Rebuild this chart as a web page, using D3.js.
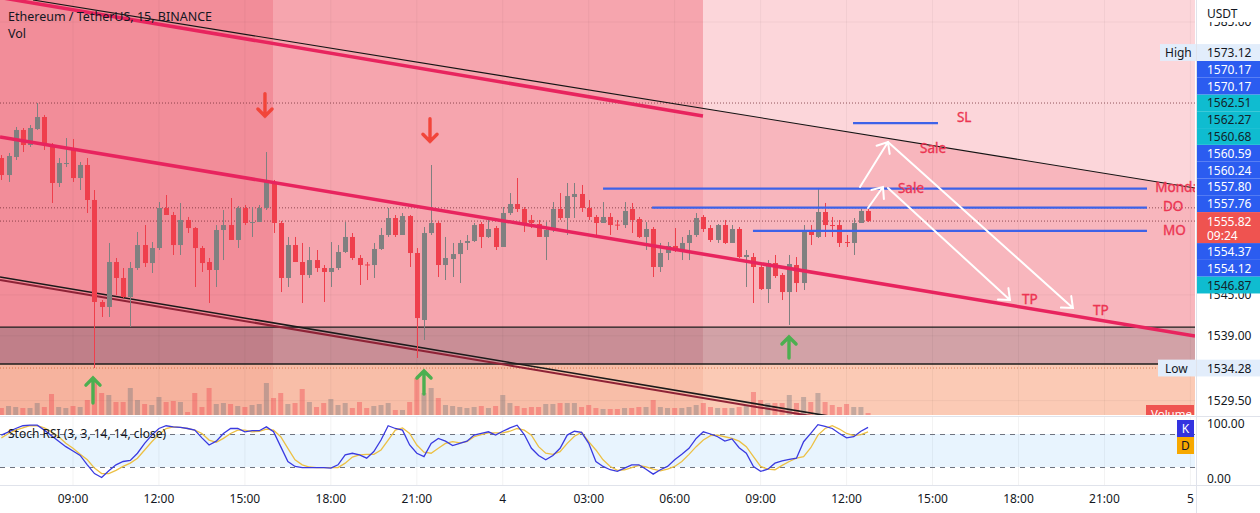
<!DOCTYPE html>
<html><head><meta charset="utf-8">
<script src="https://cdn.jsdelivr.net/npm/d3@7"></script>
<style>
body{margin:0;background:#fff;overflow:hidden}
text{font-family:"Noto Sans","Open Sans",sans-serif}
</style>
</head><body>
<svg id="c" width="1260" height="513"></svg>
<script>
// ---------------- DATA ----------------
const opens=[1565.06,1562.57,1565.21,1569.17,1566.97,1569.31,1571.07,1566.97,1561.40,1564.26,
1566.24,1562.13,1564.04,1558.91,1543.96,1543.23,1549.82,1547.48,1544.69,1548.94,
1552.31,1549.67,1551.87,1557.74,1556.71,1552.31,1555.98,1554.80,1551.87,1549.82,
1548.65,1554.51,1555.24,1553.05,1557.74,1555.61,1555.68,1557.74,1561.55,1555.54,
1547.48,1552.31,1549.82,1547.92,1550.11,1548.94,1548.36,1548.94,1551.29,1553.49,
1550.41,1549.46,1549.38,1551.73,1553.78,1556.27,1553.78,1556.56,1551.14,1541.32,
1554.07,1555.54,1549.38,1550.26,1550.99,1552.61,1552.90,1555.39,1553.49,1554.80,
1552.02,1557.00,1558.32,1557.59,1555.98,1555.39,1553.49,1554.51,1557.59,1556.27,
1559.35,1559.79,1557.74,1556.42,1555.54,1556.42,1555.30,1555.24,1557.59,1556.12,
1553.49,1554.66,1549.09,1551.14,1552.17,1551.43,1552.61,1553.78,1556.42,1554.80,
1553.05,1555.24,1552.61,1554.66,1550.55,1550.55,1549.09,1545.86,1549.67,1547.92,
1545.42,1549.38,1546.74,1554.36,1553.49,1557.15,1555.24,1555.24,1552.75,1552.61,
1555.54,1557.30];
const highs=[1565.50,1565.80,1569.61,1569.46,1569.90,1573.12,1571.37,1567.26,1565.06,1567.99,
1567.85,1564.48,1565.06,1560.37,1544.25,1552.61,1550.41,1548.94,1549.82,1554.22,
1555.24,1552.75,1558.61,1559.64,1557.15,1558.47,1556.42,1554.95,1552.17,1550.41,
1555.24,1557.44,1559.20,1558.03,1558.18,1557.88,1558.18,1565.94,1561.84,1555.83,
1553.49,1553.49,1552.61,1552.02,1551.58,1549.38,1552.75,1552.31,1555.68,1554.07,
1550.85,1549.82,1552.61,1554.80,1557.74,1556.71,1557.00,1556.71,1551.87,1554.95,
1564.04,1555.83,1553.49,1552.61,1553.05,1553.78,1555.54,1555.68,1556.27,1555.10,
1557.88,1559.93,1562.13,1557.88,1556.71,1555.98,1555.68,1558.61,1559.93,1561.40,
1561.40,1561.11,1558.91,1556.71,1558.61,1557.00,1555.98,1558.61,1558.47,1556.42,
1555.68,1554.95,1552.61,1552.75,1554.80,1553.49,1554.51,1557.00,1556.71,1555.24,
1555.39,1555.98,1555.24,1554.95,1551.58,1551.14,1549.38,1550.11,1550.85,1548.21,
1550.85,1550.55,1555.24,1555.24,1560.67,1558.47,1556.42,1555.98,1553.78,1556.27,
1557.59,1557.59];
const lows=[1561.84,1561.55,1564.77,1565.94,1566.68,1569.17,1566.24,1558.47,1560.81,1563.74,
1561.55,1560.37,1557.00,1534.28,1541.76,1541.76,1544.98,1544.55,1540.29,1548.65,
1549.09,1548.21,1551.58,1556.71,1550.85,1550.85,1554.07,1546.16,1548.36,1543.81,
1546.16,1550.11,1553.05,1551.87,1555.24,1553.49,1555.68,1557.44,1554.07,1545.42,
1546.16,1549.82,1543.81,1547.48,1548.36,1543.96,1546.16,1548.65,1551.14,1550.11,
1546.45,1547.18,1547.48,1551.58,1553.49,1553.49,1553.78,1549.09,1535.75,1538.39,
1553.78,1547.62,1547.18,1547.62,1546.74,1551.58,1552.75,1551.87,1553.34,1551.58,
1552.02,1556.71,1557.15,1554.22,1554.80,1553.49,1550.11,1554.22,1555.98,1553.78,
1556.27,1557.15,1555.98,1553.34,1555.54,1553.78,1554.51,1554.80,1554.07,1553.34,
1551.58,1547.62,1548.36,1550.11,1551.29,1550.11,1550.11,1553.49,1554.22,1552.75,
1552.61,1552.46,1552.61,1550.41,1546.16,1543.81,1545.72,1543.81,1547.48,1544.25,
1540.59,1545.42,1545.72,1552.31,1553.34,1553.49,1553.49,1552.02,1552.02,1550.85,
1555.54,1555.68];
const closes=[1562.57,1565.36,1569.17,1566.97,1569.46,1571.07,1566.97,1561.40,1564.33,1564.33,
1562.13,1564.04,1558.91,1543.96,1543.23,1549.82,1547.48,1544.69,1548.94,1552.31,
1549.67,1551.87,1557.74,1556.71,1552.31,1555.98,1554.80,1551.87,1549.67,1548.65,
1554.51,1555.24,1553.05,1557.74,1555.54,1555.68,1557.74,1561.55,1555.54,1547.48,
1552.31,1549.82,1547.92,1550.11,1548.94,1548.36,1548.94,1551.29,1553.49,1550.41,
1549.38,1549.38,1551.73,1553.78,1556.27,1553.78,1556.56,1551.14,1541.61,1554.07,
1555.54,1549.38,1550.41,1550.99,1552.61,1552.90,1555.24,1553.49,1554.66,1552.02,
1557.00,1558.32,1557.59,1555.54,1555.54,1553.49,1554.51,1557.59,1556.27,1559.49,
1559.79,1557.74,1556.42,1555.54,1556.42,1555.24,1555.24,1557.30,1555.98,1553.49,
1554.66,1549.09,1551.14,1552.17,1551.43,1552.61,1553.78,1556.27,1554.66,1553.05,
1555.24,1552.61,1554.66,1550.55,1550.85,1549.09,1545.86,1549.67,1547.77,1545.42,
1549.53,1546.74,1554.51,1553.78,1557.15,1555.24,1555.17,1552.61,1552.68,1555.54,
1557.30,1555.82];
const volumes=[700,900,800,700,700,1200,800,2100,800,700,
900,800,1500,3500,2200,2000,1300,1300,2700,1500,
1100,1000,1800,1300,1400,1300,300,2200,800,2700,
1100,1200,1100,900,800,1000,1100,3200,1700,2200,
1100,1200,2600,1300,800,1200,1600,1000,1200,700,
1300,700,900,1000,1200,500,500,1300,3700,2200,
2700,1700,1000,900,800,700,800,900,700,900,
2000,1200,900,700,800,800,1100,1100,1200,1200,
1200,800,1000,700,600,600,600,700,700,800,
800,1500,800,700,700,700,800,1000,1200,800,
700,700,700,800,1000,2300,1500,1200,1200,1200,
2000,1200,1800,1300,2200,1300,1000,800,1100,800,
800,200];
const stochK=[78,84,90,95,96,96,87,77,67,57,
49,41,24,8,1,13,24,30,32,45,
63,78,90,95,93,92,90,87,73,60,
67,81,90,90,84,86,86,93,84,57,
30,21,19,19,19,19,18,24,42,45,
42,36,48,69,95,90,87,60,45,39,
63,72,67,59,63,67,78,81,84,78,
85,91,96,79,54,41,33,41,54,78,
85,83,63,30,21,15,12,18,24,24,
16,7,15,21,33,43,54,72,84,80,
75,67,71,55,45,21,12,16,27,31,
34,36,66,81,97,94,90,81,73,75,85,92];
const stochD=[73,81,87,91,95,95,91,84,75,63,
54,43,33,18,8,8,14,21,27,36,
51,66,79,90,93,92,90,87,81,69,
65,72,81,87,87,84,85,89,87,75,
54,33,24,20,19,19,19,19,27,38,
42,43,43,51,69,87,91,81,60,47,
45,54,63,66,64,66,75,79,82,82,
82,85,90,87,78,57,45,43,48,63,
76,83,66,51,33,21,14,15,19,23,
20,16,13,16,21,30,43,57,69,77,
78,75,72,67,57,39,21,16,15,23,
30,36,39,55,78,90,95,89,81,77,79,84];
const timeTickIdx=[10,22,34,46,58,70,82,94,106,118,130,142,154,166];
const timeTickLabels=["09:00","12:00","15:00","18:00","21:00","4","03:00","06:00","09:00","12:00","15:00","18:00","21:00","5"];
const priceTicks=[1529.50,1539.00,1545.00,1585.00];
const lastPrice=1555.82, lastCountdown="09:24";
const labelsAbove=[1557.76,1557.80,1560.24,1560.59,1560.68,1562.27,1562.51,1570.17,1570.17];
const labelsAboveKind=["blue","blue","blue","blue","teal","teal","teal","blue","blue"];
const labelsBelow=[1554.37,1554.12,1546.87];
const labelsBelowKind=["blue","blue","teal"];
const highPrice=1573.12, lowPrice=1534.28;
// drawings in (bar index, price)
const lineTopBlack=[[4.42,1588.22],[166.64,1560.67]];
const lineTopRed=[[-0.19,1588.59],[97.95,1571.22]];
const lineMidRed=[[-0.19,1568.14],[166.64,1538.98]];
const lineLowDouble=[[-0.19,1547.62],[117.5,1526.9]];
const zoneTop=1540.29, zoneBottom=1534.87;
const sessionA=37.92, sessionB=97.95;
const levelNames=["SL","Monday","DO","MO"];
const levelPrices=[1570.17,1560.59,1557.80,1554.37];
const levelStart=[118.9,84.0,90.84,104.93];
const levelEnd=[130.76,159.94,159.94,159.94];
const whiteArrows=[[[119.87,1560.81],[123.78,1567.41]],[[123.78,1567.41],[149.6,1543.08]],
                   [[120.99,1557.74],[123.08,1560.81]],[[123.78,1560.67],[140.81,1544.25]]];
const downArrows=[[36.8,1574.5,1571.2],[59.84,1570.83,1567.50]];
const upArrows=[[12.79,1529.16,1532.82],[59.0,1530.48,1533.85],[109.96,1535.75,1538.83]];
const noteTexts=[["SL",133.41,1571.07],["Sale",128.25,1566.53],["Sale",125.17,1560.67],
  ["Monday",161.1,1560.81],["DO",162.17,1558.03],["MO",162.17,1554.51],["TP",142.49,1544.40],["TP",152.40,1542.79]];
const dottedPrices=[highPrice,1557.76,lastPrice];

// ---------------- LAYOUT ----------------
const svg=d3.select("#c");
const PR=1195, MB=415, ST=417, SB=485;
const x=d3.scaleLinear().domain([10,166]).range([73,1190.4]);
const y=d3.scaleLinear().domain([1588.22,1539]).range([0,335.84]);
const yS=d3.scaleLinear().domain([0,100]).range([478,423]);
const yV=d3.scaleLinear().domain([0,4000]).range([MB,MB-40]);
const idx=d3.range(opens.length);
const lineAt=(l,i)=>l[0][1]+(l[1][1]-l[0][1])*(i-l[0][0])/(l[1][0]-l[0][0]);

const defs=svg.append("defs");
defs.append("clipPath").attr("id","mainClip").append("rect").attr("x",0).attr("y",0).attr("width",PR).attr("height",MB);
defs.append("clipPath").attr("id","stClip").append("rect").attr("x",0).attr("y",ST).attr("width",PR).attr("height",SB-ST);

const main=svg.append("g").attr("clip-path","url(#mainClip)");
// backgrounds
main.append("rect").attr("x",0).attr("y",0).attr("width",PR).attr("height",MB).attr("fill","#fcd6da");
main.append("path").attr("fill","#f8b6bd")
  .attr("d",`M${x(-2)},${y(lineAt(lineTopBlack,-2))}L${x(170)},${y(lineAt(lineTopBlack,170))}L${x(170)},${MB}L${x(-2)},${MB}Z`);
main.append("rect").attr("x",0).attr("y",0).attr("width",x(sessionB)).attr("height",y(zoneTop)).attr("fill","#f6a5ae");
main.append("rect").attr("x",0).attr("y",0).attr("width",x(sessionA)).attr("height",y(zoneTop)).attr("fill","#f28d99");
const cols=[[0,x(sessionA)],[x(sessionA),x(sessionB)],[x(sessionB),PR]];
const grayC=["#c07f89","#c98e96","#d2a2a7"], peachC=["#f6b39e","#f8bea8","#fbcab5"];
cols.forEach((c,k)=>{
  main.append("rect").attr("x",c[0]).attr("y",y(zoneTop)).attr("width",c[1]-c[0]).attr("height",y(zoneBottom)-y(zoneTop)).attr("fill",grayC[k]);
  main.append("rect").attr("x",c[0]).attr("y",y(zoneBottom)).attr("width",c[1]-c[0]).attr("height",MB-y(zoneBottom)).attr("fill",peachC[k]);
});
// grid
main.selectAll(".vg").data(timeTickIdx).enter().append("line")
  .attr("x1",d=>x(d)).attr("x2",d=>x(d)).attr("y1",0).attr("y2",MB).attr("stroke","rgba(0,0,0,0.045)");
main.selectAll(".hg").data(priceTicks).enter().append("line")
  .attr("x1",0).attr("x2",PR).attr("y1",d=>y(d)).attr("y2",d=>y(d)).attr("stroke","rgba(0,0,0,0.045)");
// volume
main.selectAll(".vol").data(idx).enter().append("rect")
  .attr("x",i=>x(i)-2.5).attr("width",5).attr("y",i=>yV(volumes[i])).attr("height",i=>MB-yV(volumes[i]))
  .attr("fill",i=>closes[i]>=opens[i]?"rgba(110,112,122,0.38)":"rgba(240,60,70,0.38)");
// dotted lines
main.selectAll(".dot").data(dottedPrices).enter().append("line")
  .attr("x1",0).attr("x2",PR).attr("y1",d=>y(d)).attr("y2",d=>y(d))
  .attr("stroke","rgba(110,40,50,0.75)").attr("stroke-width",1).attr("stroke-dasharray","1,2");
main.append("line").attr("x1",0).attr("x2",PR).attr("y1",y(lowPrice)).attr("y2",y(lowPrice))
  .attr("stroke","rgba(200,90,40,0.7)").attr("stroke-dasharray","1,2");
// zone borders
[zoneTop,zoneBottom].forEach(p=>main.append("line").attr("x1",0).attr("x2",PR).attr("y1",y(p)).attr("y2",y(p)).attr("stroke","#1d1d1d").attr("stroke-width",1.3));
// lower double line
const seg=l=>`M${x(l[0][0])},${y(l[0][1])}L${x(l[1][0])},${y(l[1][1])}`;
main.append("path").attr("d",seg(lineLowDouble)).attr("transform","translate(0,3)").attr("stroke","#8e2236").attr("stroke-width",2).attr("fill","none");
main.append("path").attr("d",seg(lineLowDouble)).attr("stroke","#1a1a1a").attr("stroke-width",1.6).attr("fill","none");
// candles
const upC="#808080", dnC="#ef3f4c";
const cg=main.append("g");
cg.selectAll(".wick").data(idx).enter().append("line")
  .attr("x1",i=>Math.round(x(i))+0.5).attr("x2",i=>Math.round(x(i))+0.5)
  .attr("y1",i=>y(highs[i])).attr("y2",i=>y(lows[i]))
  .attr("stroke",i=>closes[i]>=opens[i]?upC:dnC).attr("stroke-width",1);
cg.selectAll(".body").data(idx).enter().append("rect")
  .attr("x",i=>Math.round(x(i))-2).attr("width",5)
  .attr("y",i=>y(Math.max(opens[i],closes[i])))
  .attr("height",i=>Math.max(1,Math.abs(y(opens[i])-y(closes[i]))))
  .attr("fill",i=>closes[i]>=opens[i]?upC:dnC);
// red trend lines & black top line
main.append("path").attr("d",seg(lineTopRed)).attr("stroke","#e8245e").attr("stroke-width",3.5).attr("fill","none");
main.append("path").attr("d",seg(lineMidRed)).attr("stroke","#e8245e").attr("stroke-width",3.5).attr("fill","none");
main.append("path").attr("d",seg(lineTopBlack)).attr("stroke","#141414").attr("stroke-width",1.1).attr("fill","none");
// level lines
main.selectAll(".lvl").data(levelPrices).enter().append("line")
  .attr("x1",(d,k)=>x(levelStart[k])).attr("x2",(d,k)=>x(levelEnd[k]))
  .attr("y1",d=>y(d)).attr("y2",d=>y(d)).attr("stroke","#3d62e8").attr("stroke-width",2.2);
// arrows
function arrowPath(x1,y1,x2,y2,len,ang){
  const a=Math.atan2(y2-y1,x2-x1);
  const p1=[x2-len*Math.cos(a-ang),y2-len*Math.sin(a-ang)], p2=[x2-len*Math.cos(a+ang),y2-len*Math.sin(a+ang)];
  return `M${x1},${y1}L${x2},${y2}M${p1[0]},${p1[1]}L${x2},${y2}L${p2[0]},${p2[1]}`;
}
main.selectAll(".wa").data(whiteArrows).enter().append("path")
  .attr("d",d=>arrowPath(x(d[0][0]),y(d[0][1]),x(d[1][0]),y(d[1][1]),12,Math.PI/4.5))
  .attr("stroke","#ffffff").attr("stroke-width",2).attr("fill","none").attr("stroke-linecap","round");
main.selectAll(".da").data(downArrows).enter().append("path")
  .attr("d",d=>arrowPath(x(d[0]),y(d[1]),x(d[0]),y(d[2]),10,Math.PI/4))
  .attr("stroke","#f2453a").attr("stroke-width",3.4).attr("fill","none").attr("stroke-linecap","round");
main.selectAll(".ua").data(upArrows).enter().append("path")
  .attr("d",d=>arrowPath(x(d[0]),y(d[1]),x(d[0]),y(d[2]),10,Math.PI/4))
  .attr("stroke","#4caf50").attr("stroke-width",3.4).attr("fill","none").attr("stroke-linecap","round");
// note texts
main.selectAll(".nt").data(noteTexts).enter().append("text")
  .attr("x",d=>x(d[1])).attr("y",d=>y(d[2])).attr("dominant-baseline","central")
  .attr("font-size",13.5).attr("fill","#ec3552").attr("stroke","#ec3552").attr("stroke-width",0.35).text(d=>d[0]);
// volume label
main.append("rect").attr("x",1146).attr("y",MB-10).attr("width",48).attr("height",14).attr("fill","#ef5350");
main.append("text").attr("x",1151).attr("y",MB+3).attr("font-size",11.5).attr("fill","#fff").text("Volume");
// legend
svg.append("text").attr("x",8).attr("y",16).attr("dominant-baseline","central").attr("font-size",12.5).attr("fill","#131722").text("Ethereum / TetherUS, 15, BINANCE");
svg.append("text").attr("x",8).attr("y",33).attr("dominant-baseline","central").attr("font-size",12.5).attr("fill","#131722").text("Vol");

// ---------------- STOCH PANE ----------------
svg.append("rect").attr("x",0).attr("y",MB).attr("width",1260).attr("height",513-MB).attr("fill","#fff");
svg.append("line").attr("x1",0).attr("x2",1260).attr("y1",MB+1.5).attr("y2",MB+1.5).attr("stroke","#e0e3eb");
const st=svg.append("g").attr("clip-path","url(#stClip)");
st.selectAll(".svg").data(timeTickIdx).enter().append("line")
  .attr("x1",d=>x(d)).attr("x2",d=>x(d)).attr("y1",ST).attr("y2",SB).attr("stroke","rgba(0,0,0,0.05)");
st.append("rect").attr("x",0).attr("width",PR).attr("y",yS(80)).attr("height",yS(20)-yS(80)).attr("fill","rgba(33,150,243,0.1)");
[80,20].forEach(v=>st.append("line").attr("x1",0).attr("x2",PR).attr("y1",yS(v)+0.5).attr("y2",yS(v)+0.5)
  .attr("stroke","#6f7380").attr("stroke-dasharray","5,5"));
const sl=d3.line().x(i=>x(i));
st.append("path").datum(idx).attr("d",sl.y(i=>yS(stochD[i]))).attr("fill","none").attr("stroke","#ecc044").attr("stroke-width",1.3);
st.append("path").datum(idx).attr("d",sl.y(i=>yS(stochK[i]))).attr("fill","none").attr("stroke","#3a3ae0").attr("stroke-width",1.3);
svg.append("text").attr("x",8).attr("y",433).attr("dominant-baseline","central").attr("font-size",12).attr("fill","#131722").text("Stoch RSI (3, 3, 14, 14, close)");
svg.append("rect").attr("x",1177).attr("y",420).attr("width",17).attr("height",17).attr("fill","#3333e0");
svg.append("text").attr("x",1185.5).attr("y",428.5).attr("text-anchor","middle").attr("dominant-baseline","central").attr("font-size",12).attr("fill","#fff").text("K");
svg.append("rect").attr("x",1177).attr("y",437).attr("width",17).attr("height",17).attr("fill","#f7a800");
svg.append("text").attr("x",1185.5).attr("y",445.5).attr("text-anchor","middle").attr("dominant-baseline","central").attr("font-size",12).attr("fill","#131722").text("D");
svg.append("line").attr("x1",0).attr("x2",1260).attr("y1",SB+0.5).attr("y2",SB+0.5).attr("stroke","#e0e3eb");

// ---------------- TIME AXIS ----------------
svg.selectAll(".tl").data(timeTickIdx).enter().append("text")
  .attr("x",d=>x(d)).attr("y",498).attr("text-anchor","middle").attr("dominant-baseline","central")
  .attr("font-size",12).attr("fill","#131722").text((d,k)=>timeTickLabels[k]);

// ---------------- PRICE AXIS ----------------
svg.append("rect").attr("x",PR+1).attr("y",0).attr("width",1260-PR-1).attr("height",MB).attr("fill","#fff");
svg.append("line").attr("x1",PR+1.5).attr("x2",PR+1.5).attr("y1",0).attr("y2",513).attr("stroke","#e0e3eb");
svg.selectAll(".pt").data(priceTicks).enter().append("text")
  .attr("x",1207).attr("y",d=>y(d)).attr("dominant-baseline","central").attr("font-size",12).attr("fill","#131722")
  .text(d=>d.toFixed(2));
svg.append("rect").attr("x",PR+2).attr("y",0).attr("width",1260-PR-2).attr("height",22).attr("fill","#fff");
svg.append("text").attr("x",1207).attr("y",13).attr("dominant-baseline","central").attr("font-size",12).attr("fill","#131722").text("USDT");
[["100.00",100],["0.00",0]].forEach(d=>svg.append("text").attr("x",1207).attr("y",yS(d[1])).attr("dominant-baseline","central").attr("font-size",12).attr("fill","#131722").text(d[0]));
const kindFill={blue:"#2b5cf0",teal:"#0fbcd0",light:"#e2edfb"};
const kindText={blue:"#ffffff",teal:"#13232a",light:"#131722"};
const LH=16.8;
const curTop=y(lastPrice)-9, curBot=curTop+31;
function axisLabel(cy,val,kind){
  svg.append("rect").attr("x",PR+2).attr("y",cy-LH/2).attr("width",1260-PR-2).attr("height",LH).attr("fill",kindFill[kind]);
  svg.append("text").attr("x",1207).attr("y",cy).attr("dominant-baseline","central").attr("font-size",12).attr("fill",kindText[kind]).text(val.toFixed(2));
}
labelsAbove.forEach((v,k)=>axisLabel(curTop-LH*(k+0.5),v,labelsAboveKind[k]));
labelsBelow.forEach((v,k)=>axisLabel(curBot+LH*(k+0.5),v,labelsBelowKind[k]));
const highY=curTop-LH*(labelsAbove.length+0.5);
axisLabel(highY,highPrice,"light");
svg.append("rect").attr("x",1160).attr("y",highY-LH/2).attr("width",PR+1-1160).attr("height",LH).attr("fill",kindFill.light);
svg.append("text").attr("x",1165).attr("y",highY).attr("dominant-baseline","central").attr("font-size",12).attr("fill","#131722").text("High");
axisLabel(y(lowPrice),lowPrice,"light");
svg.append("rect").attr("x",1158).attr("y",y(lowPrice)-LH/2).attr("width",PR+1-1158).attr("height",LH).attr("fill",kindFill.light);
svg.append("text").attr("x",1165).attr("y",y(lowPrice)).attr("dominant-baseline","central").attr("font-size",12).attr("fill","#131722").text("Low");
svg.append("rect").attr("x",PR+2).attr("y",curTop).attr("width",1260-PR-2).attr("height",31).attr("fill","#ef5350");
svg.append("text").attr("x",1207).attr("y",curTop+9).attr("dominant-baseline","central").attr("font-size",12).attr("fill","#fff").text(lastPrice.toFixed(2));
svg.append("text").attr("x",1207).attr("y",curTop+23).attr("dominant-baseline","central").attr("font-size",12).attr("fill","#fff").text(lastCountdown);
</script>
</body></html>
